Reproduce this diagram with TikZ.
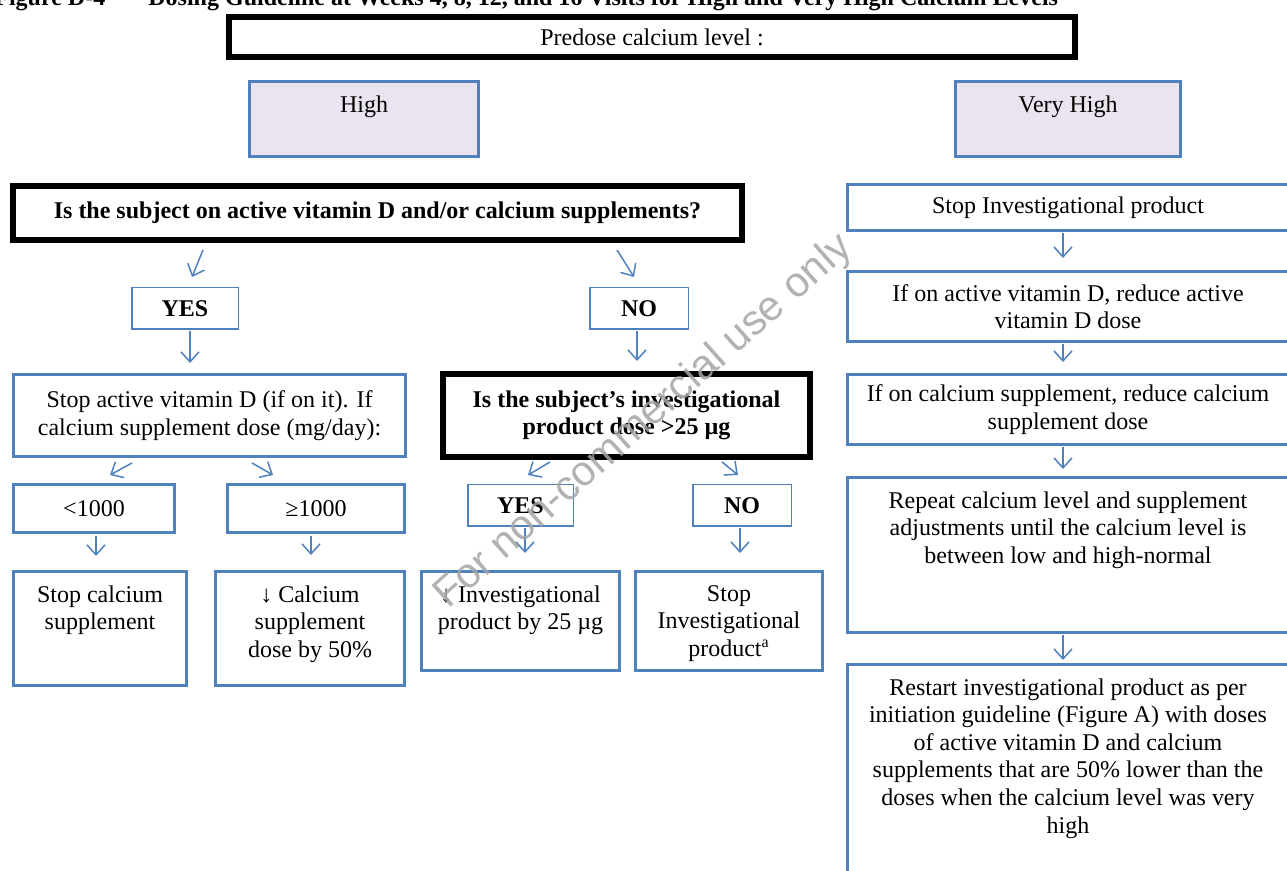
\documentclass[tikz,border=0pt]{standalone}
\usepackage{fontspec}
\setmainfont{Liberation Serif}
\newfontfamily\wmfont{Liberation Sans}
\usepackage{tikz}
\usetikzlibrary{arrows.meta,calc,positioning}
\definecolor{boxblue}{RGB}{79,129,189}
\definecolor{lavfill}{RGB}{234,228,240}
\definecolor{wmgray}{RGB}{165,165,165}

\begin{document}
\begin{tikzpicture}[x=0.5pt, y=-0.5pt,
		every node/.style={font=\fontsize{12}{13.8}\selectfont, inner sep=2pt},
		qbox/.style={draw=black, line width=3pt, align=center, font=\fontsize{12}{13.8}\selectfont\bfseries},
		bbox/.style={draw=boxblue, line width=1.5pt, align=center},
		lvbox/.style={bbox, fill=lavfill},
		ynbox/.style={draw=boxblue, line width=0.75pt, font=\fontsize{12}{13.8}\selectfont\bfseries},
		toptext/.style={anchor=north, align=center, inner sep=0pt},
		arr/.style={draw=boxblue, line width=0.75pt, -{Straight Barb[length=5pt,width=9pt]}}
		]
	\useasboundingbox (0,0) rectangle (1287,871);
	\fill[white] (0,0) rectangle (1287,871);
	
	% title, cut by the top edge
	\node[anchor=base west, inner sep=0pt, font=\fontsize{12}{13.8}\selectfont\bfseries] (figno) at (-6,6) {Figure D-4};
	\node[anchor=base west, inner sep=0pt, font=\fontsize{12}{13.8}\selectfont\bfseries] (figtitle) at (148,6) {Dosing Guideline at Weeks 4, 8, 12, and 16 Visits for High and Very High Calcium Levels};
	
	\node[qbox, minimum width=423pt, minimum height=20pt, font=\fontsize{12}{13.8}\selectfont] (pre) at (652,37) {Predose calcium level :};
	
	\node[lvbox, minimum width=114.5pt, minimum height=37.5pt] (high) at (364,119) {};
	\node[toptext] (high-t) at ($(high.north)+(0,15)$) {High};
	\node[lvbox, minimum width=112.5pt, minimum height=37.5pt] (vhigh) at (1068,119) {};
	\node[toptext] (vhigh-t) at ($(vhigh.north)+(0,15)$) {Very High};
	
	% high branch
	\node[qbox, minimum width=364.5pt, minimum height=27pt] (q1) at (377.5,213) {Is the subject on active vitamin D and/or calcium supplements?};
	\node[ynbox, minimum width=53.25pt, minimum height=20.75pt] (yes1) at (185,308.5) {YES};
	\node[ynbox, minimum width=49.25pt, minimum height=20.75pt] (no1) at (639,308.5) {NO};
	
	\node[bbox, minimum width=196pt, minimum height=41pt] (stopvd) at (209.5,415.5) {Stop active vitamin D (if on it). If\\calcium supplement dose (mg/day):};
	\node[qbox, minimum width=183.5pt, minimum height=41.5pt] (q2) at (626.5,415.5) {Is the subject’s investigational\\product dose >25 µg};
	
	\node[bbox, minimum width=80.5pt, minimum height=24pt] (lt) at (94,508.5) {<1000};
	\node[bbox, minimum width=88.5pt, minimum height=24pt] (ge) at (316,508.5) {≥1000};
	\node[ynbox, minimum width=52.75pt, minimum height=20.75pt] (yes2) at (520.5,505.5) {YES};
	\node[ynbox, minimum width=49.25pt, minimum height=20.75pt] (no2) at (742,505.5) {NO};
	
	\node[bbox, minimum width=86.5pt, minimum height=57pt] (stopca) at (100,628.5) {};
	\node[toptext] (stopca-t) at ($(stopca.north)+(0,15)$) {Stop calcium\\supplement};
	\node[bbox, minimum width=94.5pt, minimum height=57pt] (redca) at (310,628.5) {};
	\node[toptext] (redca-t) at ($(redca.north)+(0,15)$) {↓ Calcium\\supplement\\dose by 50\%};
	\node[bbox, minimum width=99pt, minimum height=49.5pt] (redip) at (520.5,621) {};
	\node[toptext] (redip-t) at ($(redip.north)+(0,15)$) {↓ Investigational\\product by 25 µg};
	\node[bbox, minimum width=93.5pt, minimum height=49.5pt] (stopip) at (729,621) {};
	\node[toptext] (stopip-t) at ($(stopip.north)+(0,15)$) {Stop\\Investigational\\product\textsuperscript{a}};
	
	% very high branch
	\node[bbox, minimum width=220.5pt, minimum height=23pt] (r1) at (1068,207.5) {Stop Investigational product};
	\node[bbox, minimum width=220.5pt, minimum height=35pt] (r2) at (1068,306.5) {If on active vitamin D, reduce active\\vitamin D dose};
	\node[bbox, minimum width=220.5pt, minimum height=35pt] (r3) at (1068,409.5) {If on calcium supplement, reduce calcium\\supplement dose};
	\node[bbox, minimum width=220.5pt, minimum height=77.5pt] (r4) at (1068,555) {};
	\node[toptext] (r4-t) at ($(r4.north)+(0,15)$) {Repeat calcium level and supplement\\adjustments until the calcium level is\\between low and high-normal};
	\node[bbox, minimum width=220.5pt, minimum height=119.5pt] (r5) at (1068,784) {};
	\node[toptext] (r5-t) at ($(r5.north)+(0,15)$) {Restart investigational product as per\\initiation guideline (Figure A) with doses\\of active vitamin D and calcium\\supplements that are 50\% lower than the\\doses when the calcium level was very\\high};
	
	% arrows
	\draw[arr] ($(q1.south)+(-174.5,7)$) -- ($(yes1.north)+(7,-10)$);
	\draw[arr] ($(q1.south)+(239.5,7)$) -- ($(no1.north)+(-5,-10)$);
	\draw[arr] ($(yes1.south)+(5,1)$) -- ($(stopvd.north)+(-19.5,-10)$);
	\draw[arr] ($(no1.south)+(-2,1)$) -- ($(q2.north)+(10.5,-10)$);
	\draw[arr] ($(stopvd.south)+(-77.5,5)$) -- ($(lt.north)+(16,-8)$);
	\draw[arr] ($(stopvd.south)+(42.5,5)$) -- ($(ge.north)+(-43,-8)$);
	\draw[arr] ($(lt.south)+(2,2)$) -- ($(stopca.north)+(-4,-14)$);
	\draw[arr] ($(ge.south)+(-5,2)$) -- ($(redca.north)+(1,-15)$);
	\draw[arr] ($(q2.south)+(-76.5,2)$) -- ($(yes2.north)+(7.5,-9)$);
	\draw[arr] ($(q2.south)+(95.5,2)$) -- ($(no2.north)+(-4,-9)$);
	\draw[arr] ($(yes2.south)+(4.5,1)$) -- ($(redip.north)+(4.5,-17)$);
	\draw[arr] ($(no2.south)+(-2,1)$) -- ($(stopip.north)+(11,-17)$);
	\draw[arr] ($(r1.south)+(-5,1)$) -- ($(r2.north)+(-5,-12)$);
	\draw[arr] ($(r2.south)+(-5,1)$) -- ($(r3.north)+(-5,-11)$);
	\draw[arr] ($(r3.south)+(-5,1)$) -- ($(r4.north)+(-5,-7)$);
	\draw[arr] ($(r4.south)+(-5,1)$) -- ($(r5.north)+(-5,-3)$);
	
	% watermark
	\node[rotate=41.5, text=wmgray, opacity=.85, font=\wmfont\fontsize{21}{24}\selectfont] (wm) at (644,422) {For non-commercial use only};
	
\end{tikzpicture}
\end{document}
